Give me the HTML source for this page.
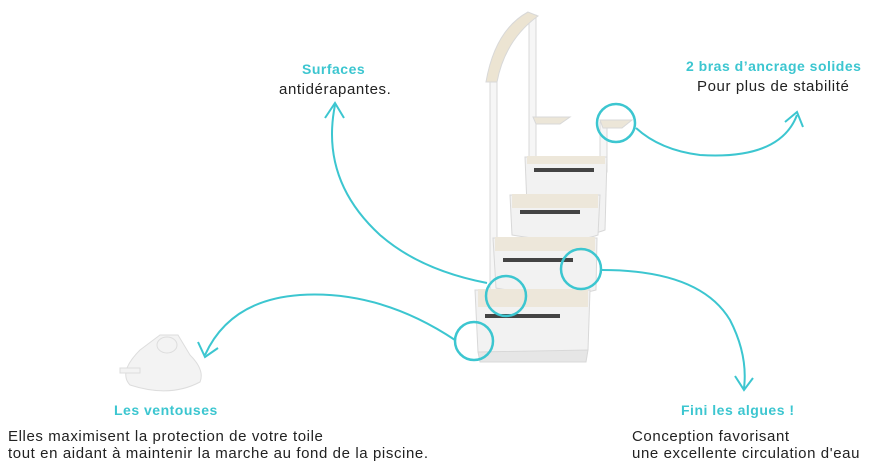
<!DOCTYPE html><html><head><meta charset="utf-8"><style>
body{margin:0;width:886px;height:472px;background:#fff;position:relative;overflow:hidden;font-family:"Liberation Sans",sans-serif;font-size:15px;letter-spacing:0.6px;color:#222}
.t{position:absolute;white-space:nowrap}
.b{color:#3cc6d0;font-weight:bold;font-size:14px;letter-spacing:0.5px}
</style></head><body>
<svg width="886" height="472" style="position:absolute;left:0;top:0">
<g fill="#f2f2f2" stroke="#d8d8d8" stroke-width="1">
<rect x="490" y="80" width="7" height="225" fill="#f6f6f6"/>
<rect x="529" y="15" width="7" height="150" fill="#f6f6f6"/>
<path d="M486 82 Q495 30 528 12 L538 16 Q505 40 497 82 Z" fill="#ece4d2"/>
<path d="M533 117 L570 117 L560 124 L536 124 Z" fill="#ece6d8"/>
<rect x="600" y="122" width="7" height="50" fill="#f6f6f6"/>
<path d="M600 120 L632 120 L622 128 L603 128 Z" fill="#ece6d8"/>
<path d="M525 157 L607 157 L605 230 Q580 240 528 230 Z"/>
<path d="M510 195 L600 195 L598 235 Q570 245 512 235 Z"/>
<path d="M493 238 L597 238 L596 290 Q560 300 496 288 Z"/>
<path d="M475 290 L590 290 L588 350 Q540 362 478 352 Z"/>
<path d="M478 352 L588 350 L586 362 L480 362 Z" fill="#e6e6e6"/>
</g>
<g fill="#ede7da"><rect x="527" y="156" width="78" height="8"/><rect x="512" y="194" width="86" height="14"/><rect x="495" y="237" width="100" height="14"/><rect x="478" y="289" width="110" height="18"/></g>
<g fill="#444"><rect x="534" y="168" width="60" height="4"/><rect x="520" y="210" width="60" height="4"/><rect x="503" y="258" width="70" height="4"/><rect x="485" y="314" width="75" height="4"/></g>
<g fill="#f3f3f3" stroke="#ddd"><path d="M140 350 L160 335 L178 335 L190 355 Q205 370 200 382 Q170 398 130 385 Q118 372 140 350Z"/><ellipse cx="167" cy="345" rx="10" ry="8"/><rect x="120" y="368" width="20" height="5"/></g>
<g fill="none" stroke="#3cc6d0" stroke-width="2.5">
<circle cx="616" cy="123" r="19"/><circle cx="581" cy="269" r="20"/><circle cx="506" cy="296" r="20"/><circle cx="474" cy="341" r="19"/>
</g>
<g fill="none" stroke="#3cc6d0" stroke-width="2">
<path d="M455 340 Q380 290 300 295 Q230 300 205 355"/><path d="M198 342 L205 357 L218 348"/>
<path d="M487 283 Q420 270 380 235 Q320 180 335 105"/><path d="M325 118 L335 103 L344 118"/>
<path d="M636 128 Q660 150 700 155 Q780 160 797 115"/><path d="M785 122 L797 112 L803 127"/>
<path d="M602 270 Q700 270 730 320 Q748 355 744 388"/><path d="M735 376 L744 390 L753 378"/>
</g>
</svg>
<div class="t b" style="left:302px;top:61px">Surfaces</div>
<div class="t" style="left:279px;top:81px">antidérapantes.</div>
<div class="t b" style="left:686px;top:58px">2 bras d’ancrage solides</div>
<div class="t" style="left:697px;top:78px">Pour plus de stabilité</div>
<div class="t b" style="left:114px;top:402px">Les ventouses</div>
<div class="t" style="left:8px;top:428px;line-height:17px">Elles maximisent la protection de votre toile<br>tout en aidant à maintenir la marche au fond de la piscine.</div>
<div class="t b" style="left:681px;top:402px">Fini les algues !</div>
<div class="t" style="left:632px;top:428px;line-height:17px">Conception favorisant<br>une excellente circulation d'eau</div>
</body></html>
